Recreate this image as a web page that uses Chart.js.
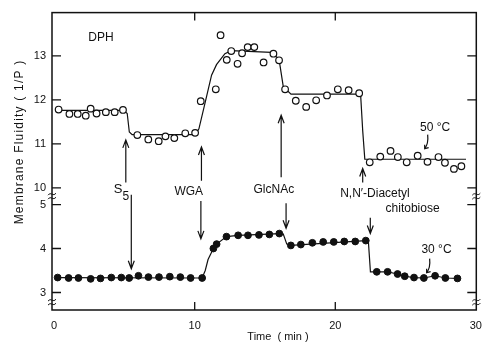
<!DOCTYPE html>
<html>
<head>
<meta charset="utf-8">
<script src="https://cdn.jsdelivr.net/npm/chart.js@4/dist/chart.umd.min.js"></script>
<style>
html, body { margin: 0; padding: 0; background: #fff; }
</style>
</head>
<body>
<canvas id="c" width="491" height="345"></canvas>
<script>
// the axis is broken: the 50 °C panel (10..13) sits above the 30 °C panel (3..5)
// on one shared scale, shifted down by OFF units
const OFF = 4.62;
const INK = '#111';

// 50 °C, open circles
const hotTime = [0.32, 1.09, 1.68, 2.25, 2.6, 3.02, 3.68, 4.31, 4.9,
  5.92, 6.7, 7.44, 7.92, 8.55, 9.33, 10.03,
  10.43, 11.5, 11.84, 12.28, 12.6, 13.05, 13.37, 13.77, 14.24, 14.9, 15.6, 16.0,
  16.43, 17.19, 17.93, 18.64, 19.41, 20.18, 20.95, 21.7,
  22.45, 23.2, 23.93, 24.45, 25.08, 25.86, 26.56, 27.34, 27.8, 28.44, 28.97];
const hotFluidity = [11.78, 11.68, 11.68, 11.64, 11.80, 11.69, 11.72, 11.72, 11.77,
  11.20, 11.10, 11.06, 11.17, 11.13, 11.24, 11.25,
  11.97, 12.24, 13.47, 12.91, 13.11, 12.82, 13.06, 13.20, 13.20, 12.85, 13.05, 12.90,
  12.24, 11.98, 11.84, 11.99, 12.10, 12.24, 12.22, 12.15,
  10.58, 10.71, 10.84, 10.70, 10.58, 10.73, 10.59, 10.70, 10.57, 10.43, 10.49];

// 50 °C fitted curve
const hotFitTime = [0.3, 4.95, 5.2, 5.35, 5.55, 10.05, 10.3, 10.75, 11.2, 11.55, 12.15, 12.6,
  15.45, 16.0, 16.3, 16.85, 21.8, 21.95, 22.1, 29.3];
const hotFitFluidity = [11.76, 11.76, 11.69, 11.27, 11.21, 11.21, 11.34, 11.95, 12.56, 12.8, 13.05, 13.12,
  13.08, 12.92, 12.3, 12.13, 12.13, 11.3, 10.65, 10.65];

// 30 °C, filled circles
const coldTime = [0.25, 1.03, 1.73, 2.6, 3.3, 4.07, 4.78, 5.34, 6.0, 6.71, 7.46, 8.23, 8.98, 9.71, 10.53,
  11.33, 11.56, 12.26, 13.09, 13.79, 14.57, 15.31, 16.02,
  16.84, 17.55, 18.37, 19.14, 19.89, 20.64, 21.42, 22.17,
  22.95, 23.72, 24.43, 24.94, 25.6, 26.3, 27.1, 27.83, 28.69];
const coldFluidity = [3.34, 3.33, 3.33, 3.31, 3.32, 3.34, 3.34, 3.33, 3.38, 3.35, 3.35, 3.36, 3.35, 3.33, 3.33,
  4.00, 4.10, 4.27, 4.30, 4.30, 4.31, 4.32, 4.34,
  4.07, 4.09, 4.13, 4.15, 4.15, 4.16, 4.16, 4.18,
  3.47, 3.47, 3.42, 3.37, 3.34, 3.33, 3.38, 3.33, 3.32];

// 30 °C trace joining the points (with the steps)
const coldFitTime = [0.25, 10.53, 10.75, 10.95, 11.33, 11.56, 12.26, 13.09, 16.02, 16.3, 16.55, 16.84,
  22.17, 22.35, 22.5, 22.95, 23.72, 24.43, 24.94, 25.6, 26.3, 27.1, 27.83, 28.69];
const coldFitFluidity = [3.34, 3.33, 3.5, 3.75, 4.00, 4.10, 4.27, 4.30, 4.34, 4.33, 4.10, 4.07,
  4.18, 4.18, 3.47, 3.47, 3.47, 3.42, 3.37, 3.34, 3.33, 3.38, 3.33, 3.32];

const xTicks = [0, 10, 20, 30];
const lowerTicks = [3, 4, 5];
const upperTicks = [10, 11, 12, 13];

const yTickValues = lowerTicks.concat(upperTicks.map(v => v - OFF));
const yTickLabels = lowerTicks.concat(upperTicks).map(String);

function pts(ts, vs, off) {
  return ts.map((t, i) => ({ x: t, y: vs[i] - off }));
}

function arrow(ctx, x, y1, y2) {
  // shaft from y1 to y2, head at y2
  const d = y2 > y1 ? -1 : 1;
  ctx.beginPath();
  ctx.moveTo(x, y1);
  ctx.lineTo(x, y2);
  ctx.moveTo(x - 3, y2 + d * 8);
  ctx.lineTo(x, y2);
  ctx.lineTo(x + 3, y2 + d * 8);
  ctx.stroke();
}

function squiggle(ctx, x, y1, y2) {
  ctx.beginPath();
  ctx.moveTo(x + 1, y1);
  ctx.quadraticCurveTo(x + 2, y2 - 5, x - 2, y2);
  ctx.moveTo(x - 2, y2 - 4);
  ctx.lineTo(x - 2, y2);
  ctx.lineTo(x + 2, y2 - 1);
  ctx.stroke();
}

function brk(ctx, px, py) {
  ctx.beginPath();
  for (const dy of [-2, 2]) {
    ctx.moveTo(px - 4, py + dy + 1);
    ctx.bezierCurveTo(px - 1, py + dy - 3, px + 1, py + dy + 3, px + 4, py + dy - 1);
  }
  ctx.stroke();
}

const decor = {
  id: 'decor',
  afterDraw(chart) {
    const { ctx, chartArea: a, scales: { x, y } } = chart;
    const X = v => x.getPixelForValue(v);
    const Y = v => y.getPixelForValue(v);
    ctx.save();
    ctx.strokeStyle = INK;
    ctx.fillStyle = INK;

    // frame
    ctx.lineWidth = 1.5;
    ctx.strokeRect(a.left, a.top, a.right - a.left, a.bottom - a.top);

    // inward ticks on all four sides
    ctx.lineWidth = 1.3;
    ctx.beginPath();
    [10, 20].forEach(v => {
      ctx.moveTo(X(v), a.bottom); ctx.lineTo(X(v), a.bottom - 8);
      ctx.moveTo(X(v), a.top); ctx.lineTo(X(v), a.top + 8);
    });
    yTickValues.forEach(v => {
      ctx.moveTo(a.left, Y(v)); ctx.lineTo(a.left + 9, Y(v));
      ctx.moveTo(a.right, Y(v)); ctx.lineTo(a.right - 9, Y(v));
    });
    ctx.stroke();

    // axis break marks
    ctx.lineWidth = 1;
    [5.19, 2.78].forEach(v => {
      brk(ctx, a.left, Y(v));
      brk(ctx, a.right, Y(v));
    });

    // arrows
    ctx.lineWidth = 1.2;
    arrow(ctx, X(5.1), Y(5.50), Y(6.47));
    arrow(ctx, X(5.49), Y(5.22), Y(3.54));
    arrow(ctx, X(10.48), Y(5.54), Y(6.31));
    arrow(ctx, X(10.44), Y(5.08), Y(4.22));
    arrow(ctx, X(16.15), Y(5.62), Y(7.03));
    arrow(ctx, X(16.5), Y(5.03), Y(4.46));
    arrow(ctx, X(21.95), Y(5.50), Y(5.82));
    arrow(ctx, X(22.49), Y(4.70), Y(4.34));
    squiggle(ctx, X(26.5), Y(6.59), Y(6.27));
    squiggle(ctx, X(26.64), Y(3.77), Y(3.45));

    // labels
    ctx.font = '12px "Liberation Sans", Arial, sans-serif';
    ctx.textAlign = 'center';
    ctx.textBaseline = 'middle';
    ctx.fillText('DPH', X(3.33), Y(8.80));
    ctx.fillText('WGA', X(9.58), Y(5.29));
    ctx.fillText('GlcNAc', X(15.63), Y(5.33));
    ctx.fillText('N,N\u2032-Diacetyl', X(22.82), Y(5.25));
    ctx.fillText('chitobiose', X(25.5), Y(4.90));
    ctx.fillText('50 \u00B0C', X(27.1), Y(6.74));
    ctx.fillText('30 \u00B0C', X(27.2), Y(3.97));
    ctx.font = '13px "Liberation Sans", Arial, sans-serif';
    ctx.fillText('S', X(4.55), Y(5.34));
    ctx.font = '12px "Liberation Sans", Arial, sans-serif';
    ctx.fillText('5', X(5.1), Y(5.18));

    // axis titles
    ctx.font = '11px "Liberation Sans", Arial, sans-serif';
    ctx.fillText('Time  ( min )', 278, 337);
    ctx.save();
    ctx.translate(20, 142);
    ctx.rotate(-Math.PI / 2);
    ctx.font = '12px "Liberation Sans", Arial, sans-serif';
    ctx.letterSpacing = '1.2px';
    ctx.fillText('Membrane Fluidity ( 1/P )', 0, 0);
    ctx.restore();

    ctx.restore();
  }
};

new Chart(document.getElementById('c'), {
  type: 'scatter',
  data: {
    datasets: [
      {
        label: '50 °C',
        data: pts(hotTime, hotFluidity, OFF),
        showLine: false,
        pointStyle: 'circle',
        pointRadius: 3.3,
        pointBorderWidth: 1.2,
        pointBorderColor: INK,
        pointBackgroundColor: '#fff'
      },
      {
        label: '30 °C',
        data: pts(coldTime, coldFluidity, 0),
        showLine: false,
        pointRadius: 3.4,
        pointBorderWidth: 1,
        pointBorderColor: INK,
        pointBackgroundColor: INK
      },
      {
        label: '50 °C fit',
        data: pts(hotFitTime, hotFitFluidity, OFF),
        showLine: true,
        pointRadius: 0,
        borderColor: INK,
        borderWidth: 1.2
      },
      {
        label: '30 °C trace',
        data: pts(coldFitTime, coldFitFluidity, 0),
        showLine: true,
        pointRadius: 0,
        borderColor: INK,
        borderWidth: 1.2
      }
    ]
  },
  options: {
    responsive: false,
    animation: false,
    devicePixelRatio: 1,
    layout: { padding: { left: 0, right: 10, top: 12, bottom: 0 } },
    plugins: {
      legend: { display: false },
      tooltip: { enabled: false }
    },
    scales: {
      x: {
        type: 'linear',
        min: -0.15,
        max: 30.03,
        grid: { display: false, drawTicks: false },
        border: { display: false },
        afterBuildTicks: s => { s.ticks = xTicks.map(v => ({ value: v })); },
        afterFit: s => { s.height = 35; },
        ticks: {
          padding: 9,
          color: INK,
          font: { family: '"Liberation Sans", Arial, sans-serif', size: 11 }
        }
      },
      y: {
        type: 'linear',
        min: 2.602,
        max: 9.364,
        grid: { display: false, drawTicks: false },
        border: { display: false },
        afterBuildTicks: s => { s.ticks = yTickValues.map(v => ({ value: v })); },
        afterFit: s => { s.width = 52; },
        ticks: {
          padding: 6,
          color: INK,
          font: { family: '"Liberation Sans", Arial, sans-serif', size: 11 },
          callback: (v, i) => yTickLabels[i]
        }
      }
    }
  },
  plugins: [decor]
});
</script>
</body>
</html>
